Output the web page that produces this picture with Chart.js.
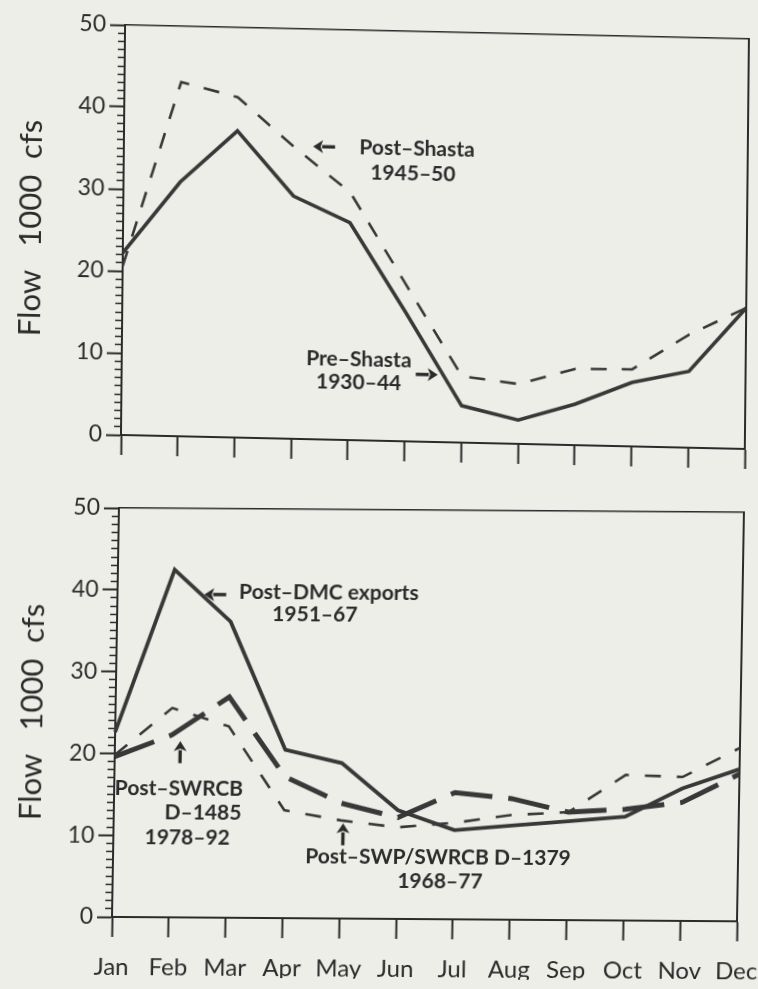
<!DOCTYPE html>
<html><head><meta charset="utf-8">
<script src="https://cdn.jsdelivr.net/npm/chart.js@4"></script>
<style>
html,body{margin:0;padding:0;background:#eeeee9;overflow:hidden;width:758px;height:989px;position:relative;}
canvas{position:absolute;left:0;}
#topChart{top:0;transform-origin:121px 435px;transform:matrix(1,0.0224,-0.01,1,0,0);}
#botChart{top:470px;transform-origin:112px 447px;transform:matrix(1,0.007,-0.017,1,0,0);}
</style></head><body>
<canvas id="topChart" width="780" height="470"></canvas>
<canvas id="botChart" width="780" height="519"></canvas>
<script>
// ---- data ----
const months = ['Jan','Feb','Mar','Apr','May','Jun','Jul','Aug','Sep','Oct','Nov','Dec'];
const yTickLabels = [0, 10, 20, 30, 40, 50];
const yTitle = 'Flow\u00A0\u00A0\u00A01000\u00A0\u00A0cfs';

// top panel
const preShasta  = [22.2, 31.0, 37.4, 29.6, 26.5, 15.7, 4.5, 2.9, 5.0, 7.8, 9.3, 17.2];
const postShasta = [20.6, 43.2, 41.5, 35.6, 30.2, 19.1, 8.1, 7.3, 9.3, 9.4, 13.8, 17.2];

// bottom panel
const postDMC   = [22.6, 42.5, 36.2, 20.6, 19.0, 13.3, 10.9, 11.5, 12.1, 12.7, 16.2, 18.6];
const postD1379 = [19.8, 25.6, 23.4, 13.2, 12.0, 11.2, 11.8, 12.8, 13.2, 17.8, 17.6, 21.2];
const postD1485 = [19.6, 22.3, 27.0, 17.3, 14.1, 12.4, 15.5, 14.8, 13.2, 13.6, 14.5, 18.0];

// annotations (anchored in data space: month index, flow)
const topNotes = [
  {arrow:'left', x:3.53, y:35.7},
  {text:'Post\u2013Shasta', x:5.17, y:35.7},
  {text:'1945\u201350', x:5.10, y:32.7},
  {text:'Pre\u2013Shasta', x:4.18, y:9.8},
  {text:'1930\u201344', x:4.18, y:7.0},
  {arrow:'right', x:5.38, y:8.2}
];
const botNotes = [
  {arrow:'left', x:1.72, y:39.5},
  {text:'Post\u2013DMC exports', x:3.72, y:39.8},
  {text:'1951\u201367', x:3.48, y:37.1},
  {arrow:'up', x:1.15, y:20.2},
  {text:'Post\u2013SWRCB', x:1.14, y:15.8},
  {text:'D\u20131485', x:1.57, y:12.8},
  {text:'1978\u201392', x:1.30, y:9.7},
  {arrow:'up', x:4.04, y:10.3},
  {text:'Post\u2013SWP/SWRCB D\u20131379', x:5.72, y:7.6},
  {text:'1968\u201377', x:5.76, y:4.6}
];

// ---- styling ----
const ink = '#2b2b2b';
const lineInk = '#383838';

function drawArrow(ctx, cx, cy, dir) {
  const L = 22, head = 10, half = 6.5;
  const v = {left:[-1,0], right:[1,0], up:[0,-1]}[dir];
  const px = -v[1], py = v[0];
  const tipX = cx + v[0]*L/2, tipY = cy + v[1]*L/2;
  const tailX = cx - v[0]*L/2, tailY = cy - v[1]*L/2;
  const baseX = tipX - v[0]*head, baseY = tipY - v[1]*head;
  ctx.beginPath();
  ctx.moveTo(tailX, tailY);
  ctx.lineTo(baseX + v[0]*1, baseY + v[1]*1);
  ctx.lineWidth = 3.4;
  ctx.strokeStyle = ink;
  ctx.stroke();
  ctx.beginPath();
  ctx.moveTo(tipX, tipY);
  ctx.lineTo(baseX + px*half, baseY + py*half);
  ctx.lineTo(baseX + v[0]*2.5, baseY + v[1]*2.5);
  ctx.lineTo(baseX - px*half, baseY - py*half);
  ctx.closePath();
  ctx.fillStyle = ink;
  ctx.fill();
}

function notesPlugin(notes) {
  return {
    id: 'notes',
    afterDatasetsDraw(chart) {
      const ctx = chart.ctx, xs = chart.scales.x, ys = chart.scales.y;
      ctx.save();
      ctx.fillStyle = ink;
      ctx.textAlign = 'center';
      ctx.textBaseline = 'middle';
      ctx.font = 'bold 21px Lato';
      notes.forEach(n => {
        const px = xs.getPixelForValue(n.x), py = ys.getPixelForValue(n.y);
        if (n.arrow) drawArrow(ctx, px, py, n.arrow);
        else { ctx.fillStyle = ink; ctx.fillText(n.text, px, py); }
      });
      ctx.restore();
    }
  };
}

function makeScales(opts) {
  return {
    x: {
      type: 'category', offset: false, position: 'bottom',
      afterFit: opts.xFit,
      grid: {display: true, drawOnChartArea: false, drawTicks: true, tickLength: 20, tickWidth: 2, tickColor: ink},
      border: {display: true, width: 2, color: ink},
      ticks: {display: opts.showMonths, autoSkip: false, maxRotation: 0, padding: 16,
              font: {family: 'Lato', size: 24}, color: ink}
    },
    y: {
      type: 'linear', min: 0, max: 50, position: 'left',
      afterFit: s => { s.width = opts.yWidth; },
      ticks: {stepSize: 1, autoSkip: false, padding: 4, font: {family: 'Lato', size: 23}, color: ink,
              callback: v => (yTickLabels.includes(v) ? String(v) : '')},
      grid: {display: true, drawOnChartArea: false, drawTicks: true, tickLength: 15, tickColor: ink,
             tickWidth: c => (c.tick && yTickLabels.includes(c.tick.value)) ? 2 : 1.6,
             tickBorderDash: c => (c.tick && yTickLabels.includes(c.tick.value)) ? [] : [0, 8, 7, 60]},
      border: {display: true, width: 2, color: ink},
      title: {display: true, text: yTitle, color: ink, font: {family: 'Lato', size: 31, lineHeight: 1.2},
              padding: {top: 10, bottom: 0}}
    },
    x2: {
      type: 'linear', position: 'top', display: true,
      afterFit: s => { s.height = 0; },
      ticks: {display: false}, grid: {display: false, drawTicks: false},
      border: {display: true, width: 1.6, color: ink}
    },
    y2: {
      type: 'linear', position: 'right', display: true,
      afterFit: s => { s.width = 0; },
      ticks: {display: false}, grid: {display: false, drawTicks: false},
      border: {display: true, width: 2, color: ink}
    }
  };
}

function ds(data, width, dash) {
  return {data, borderColor: lineInk, borderWidth: width, borderDash: dash,
          pointRadius: 0, tension: 0, fill: false, borderJoinStyle: 'miter', borderCapStyle: 'butt'};
}

const common = {
  responsive: false, animation: false, devicePixelRatio: 1,
  plugins: {legend: {display: false}, tooltip: {enabled: false}}
};

new Chart(document.getElementById('topChart'), {
  type: 'line',
  data: {labels: months, datasets: [ds(postShasta, 2.6, [16, 15]), ds(preShasta, 3.6, [])]},
  options: Object.assign({}, common, {
    layout: {padding: {left: 0, top: 25, right: 35, bottom: 15}},
    scales: makeScales({showMonths: false, yWidth: 121, xFit: s => { s.height = 20; }})
  }),
  plugins: [notesPlugin(topNotes)]
});

new Chart(document.getElementById('botChart'), {
  type: 'line',
  data: {labels: months, datasets: [ds(postD1379, 2.6, [16, 16]), ds(postDMC, 3.8, []), ds(postD1485, 5, [42, 16])]},
  options: Object.assign({}, common, {
    layout: {padding: {left: 0, top: 38, right: 43, bottom: 12}},
    scales: makeScales({showMonths: true, yWidth: 112, xFit: s => { s.height = 60; }})
  }),
  plugins: [notesPlugin(botNotes)]
});
</script>
</body></html>
